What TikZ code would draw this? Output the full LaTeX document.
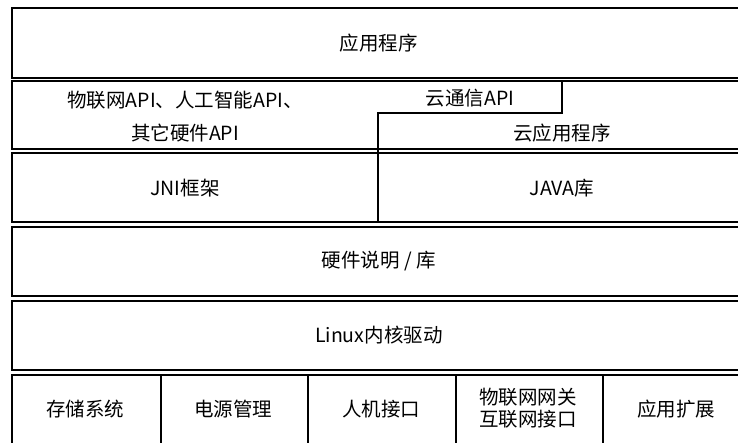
\documentclass[tikz,border=0pt]{standalone}
\usepackage{fontspec}
\setmainfont{Noto Sans CJK SC}
\begin{document}
\begin{tikzpicture}[x=1pt,y=-1pt,
  box/.style={draw=black,line width=1.6pt,anchor=north west,inner sep=0pt,font=\fontsize{19.5}{23}\selectfont},
  lbl/.style={inner sep=0pt,font=\fontsize{19.5}{23}\selectfont,align=center},
  sep/.style={draw=black,line width=1.6pt}]
\useasboundingbox (0,0) rectangle (738,443);
\node[box,minimum width=734pt,minimum height=70pt] (app) at (11,7) {应用程序};
\node[box,minimum width=734pt,minimum height=68pt] (api) at (11,80) {};
\node[box,minimum width=734pt,minimum height=69pt] (jni) at (11,152) {};
\node[box,minimum width=734pt,minimum height=69pt] (hw) at (11,226) {硬件说明 / 库};
\node[box,minimum width=734pt,minimum height=69pt] (linux) at (11,300) {Linux内核驱动};
\node[lbl] (iot) at (185,100) {物联网API、人工智能API、};
\node[lbl] (other) at (185,133) {其它硬件API};
\node[lbl] (cloudapi) at (470,98) {云通信API};
\node[lbl] (cloudapp) at (562,133) {云应用程序};
\node[lbl] (jnit) at (185,188) {JNI框架};
\node[lbl] (java) at (562,188) {JAVA库};
\coordinate (s1) at (378,221);
\coordinate (s2) at (378,113);
\coordinate (s3) at (562,113);
\coordinate (s4) at (562,80);
\draw[sep] (s1) -- (s2) -- (s3) -- (s4);
\node[box,minimum width=149pt,minimum height=80pt] (b1) at (11,374) {};
\node[box,minimum width=147pt,minimum height=80pt] (b2) at (160,374) {};
\node[box,minimum width=148pt,minimum height=80pt] (b3) at (307,374) {};
\node[box,minimum width=147pt,minimum height=80pt] (b4) at (455,374) {};
\node[box,minimum width=148pt,minimum height=80pt] (b5) at (602,374) {};
\node[lbl] (t1) at (85,409) {存储系统};
\node[lbl] (t2) at (233,409) {电源管理};
\node[lbl] (t3) at (381,409) {人机接口};
\node[lbl] (t4) at (528,408) {物联网网关\\[-1pt]互联网接口};
\node[lbl] (t5) at (676,409) {应用扩展};
\end{tikzpicture}
\end{document}
